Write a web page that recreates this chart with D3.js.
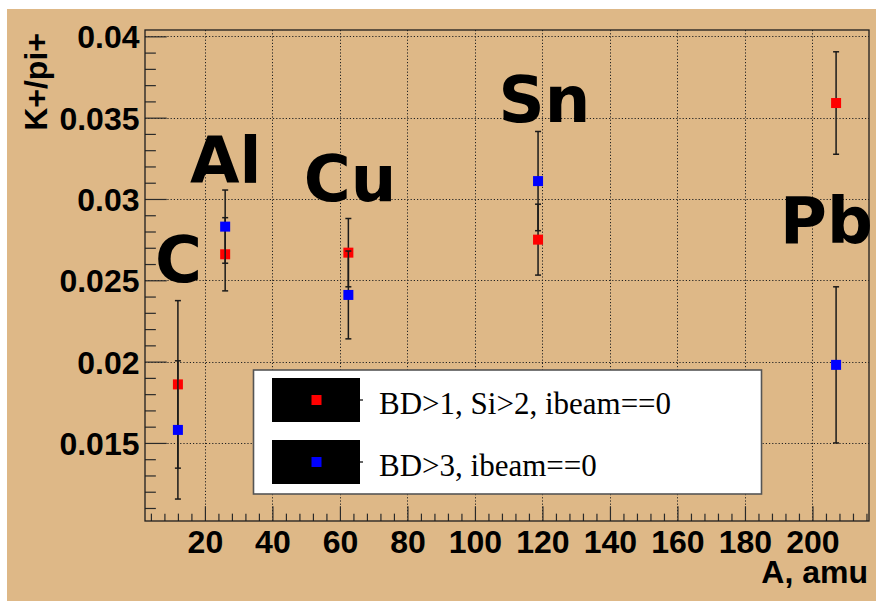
<!DOCTYPE html>
<html>
<head>
<meta charset="utf-8">
<script src="https://cdn.jsdelivr.net/npm/d3@7"></script>
<style>
  html, body { margin: 0; padding: 0; background: #fff; }
  svg { display: block; }
</style>
</head>
<body>
<svg id="chart" width="876" height="601"></svg>
<script>
// Targets and mass numbers
const categories = ["C", "Al", "Cu", "Sn", "Pb"];
const massNumbers = [12, 26, 62.5, 118.7, 207];

// K+/pi+ ratio, selection "BD>1, Si>2, ibeam==0"
const ratioSel1 = [0.0186, 0.0266, 0.0267, 0.0275, 0.0359];
const errorSel1 = [0.00515, 0.00225, 0.0021, 0.00218, 0.00315];

// K+/pi+ ratio, selection "BD>3, ibeam==0"
const ratioSel2 = [0.0158, 0.0283, 0.0241, 0.0311, 0.0198];
const errorSel2 = [0.00425, 0.00225, 0.0027, 0.00305, 0.0048];

const seriesNames = ["BD>1, Si>2, ibeam==0", "BD>3, ibeam==0"];

// Axis ticks
const xMajorTicks = [20, 40, 60, 80, 100, 120, 140, 160, 180, 200];
const xTickLabels = ["20", "40", "60", "80", "100", "120", "140", "160", "180", "200"];
const yMajorTicks = [0.015, 0.02, 0.025, 0.03, 0.035, 0.04];
const yTickLabels = ["0.015", "0.02", "0.025", "0.03", "0.035", "0.04"];

// Target-name annotations, anchored in data coordinates (A, ratio)
const labelA = [5.2, 15.6, 49.3, 107, 190.4];
const labelRatio = [0.0249, 0.0310, 0.0299, 0.03474, 0.0273];

const svg = d3.select("#chart");
const W = 876, H = 601;
const frame = { left: 145, right: 869, top: 30, bottom: 521 };

const x = d3.scaleLinear().domain([2.25, 216.75]).range([frame.left, frame.right]);
const y = d3.scaleLinear().domain([0.0102, 0.04039]).range([frame.bottom, frame.top]);

const sans = "'Liberation Sans', Arial, Helvetica, sans-serif";
const serif = "'Liberation Serif', 'Times New Roman', serif";
const bigSans = "'DejaVu Sans', 'Liberation Sans', sans-serif";

// Page + canvas background
svg.append("rect").attr("width", W).attr("height", H).attr("fill", "#ffffff");
svg.append("rect").attr("x", 7).attr("y", 9).attr("width", W - 7).attr("height", H - 9)
  .attr("fill", "#deb887");

// Dotted grid at the major ticks
const grid = svg.append("g").attr("stroke", "#222").attr("stroke-width", 1)
  .attr("stroke-dasharray", "1.2,2");
grid.selectAll("line.gx").data(xMajorTicks).join("line")
  .attr("x1", d => Math.round(x(d)) + 0.5).attr("x2", d => Math.round(x(d)) + 0.5)
  .attr("y1", frame.top).attr("y2", frame.bottom);
grid.selectAll("line.gy").data(yMajorTicks).join("line")
  .attr("y1", d => Math.round(y(d)) + 0.5).attr("y2", d => Math.round(y(d)) + 0.5)
  .attr("x1", frame.left).attr("x2", frame.right);

// Axes: inward ticks, major + minor
const plotW = frame.right - frame.left, plotH = frame.bottom - frame.top;
const xMinor = d3.range(4, 217, 4).filter(v => v % 20 !== 0);
const yMinor = d3.range(11, 41).map(v => v / 1000).filter(v => Math.round(v * 1000) % 5 !== 0);

function styleAxis(g) {
  g.select(".domain").remove();
  g.selectAll(".tick line").attr("stroke", "#2a2a2a").attr("stroke-width", 1.2);
}

const xAxisG = svg.append("g").attr("transform", `translate(0,${frame.bottom})`)
  .call(d3.axisBottom(x).tickValues(xMajorTicks).tickSizeInner(-0.03 * plotH).tickSizeOuter(0).tickPadding(0)
    .tickFormat((d, i) => xTickLabels[i]));
styleAxis(xAxisG);
xAxisG.selectAll(".tick text").attr("y", 32).attr("dy", null)
  .attr("font-family", sans).attr("font-weight", "bold").attr("font-size", 32).attr("fill", "#000");

const xMinorG = svg.append("g").attr("transform", `translate(0,${frame.bottom})`)
  .call(d3.axisBottom(x).tickValues(xMinor).tickSizeInner(-0.015 * plotH).tickSizeOuter(0).tickFormat(""));
styleAxis(xMinorG);

const yAxisG = svg.append("g").attr("transform", `translate(${frame.left},0)`)
  .call(d3.axisLeft(y).tickValues(yMajorTicks).tickSizeInner(-0.03 * plotW).tickSizeOuter(0).tickPadding(6)
    .tickFormat((d, i) => yTickLabels[i]));
styleAxis(yAxisG);
yAxisG.selectAll(".tick text").attr("x", -5.5).attr("dy", "0.36em")
  .attr("font-family", sans).attr("font-weight", "bold").attr("font-size", 32).attr("fill", "#000");

const yMinorG = svg.append("g").attr("transform", `translate(${frame.left},0)`)
  .call(d3.axisLeft(y).tickValues(yMinor).tickSizeInner(-0.015 * plotW).tickSizeOuter(0).tickFormat(""));
styleAxis(yMinorG);

// Frame
svg.append("rect").attr("x", frame.left).attr("y", frame.top)
  .attr("width", plotW).attr("height", plotH)
  .attr("fill", "none").attr("stroke", "#1e1e1e").attr("stroke-width", 1.3);

// Target names
svg.append("g").selectAll("text").data(categories).join("text")
  .attr("x", (d, i) => x(labelA[i])).attr("y", (d, i) => y(labelRatio[i]))
  .attr("font-family", bigSans).attr("font-weight", "bold").attr("font-size", 64)
  .attr("fill", "#000").text(d => d);

// Error bars + markers
const series = [
  { values: ratioSel1, errors: errorSel1, color: "#ff0000" },
  { values: ratioSel2, errors: errorSel2, color: "#0000ff" }
];
const capHalf = 3, markerSize = 10;

series.forEach(s => {
  const g = svg.append("g");
  const pts = massNumbers.map((a, i) => ({ a, v: s.values[i], e: s.errors[i] }));
  const eb = g.append("g").attr("stroke", "#1a1a1a").attr("stroke-width", 1.5);
  eb.selectAll("line.v").data(pts).join("line")
    .attr("x1", d => x(d.a)).attr("x2", d => x(d.a))
    .attr("y1", d => y(d.v + d.e)).attr("y2", d => y(d.v - d.e));
  eb.selectAll("line.t").data(pts).join("line")
    .attr("x1", d => x(d.a) - capHalf).attr("x2", d => x(d.a) + capHalf)
    .attr("y1", d => y(d.v + d.e)).attr("y2", d => y(d.v + d.e));
  eb.selectAll("line.b").data(pts).join("line")
    .attr("x1", d => x(d.a) - capHalf).attr("x2", d => x(d.a) + capHalf)
    .attr("y1", d => y(d.v - d.e)).attr("y2", d => y(d.v - d.e));
  g.selectAll("rect").data(pts).join("rect")
    .attr("x", d => x(d.a) - markerSize / 2).attr("y", d => y(d.v) - markerSize / 2)
    .attr("width", markerSize).attr("height", markerSize)
    .attr("fill", s.color);
});

// Legend
const legend = svg.append("g");
legend.append("rect").attr("x", 253.5).attr("y", 370).attr("width", 508).attr("height", 124)
  .attr("fill", "#fff").attr("stroke", "#555").attr("stroke-width", 1.6);
const rowY = [400, 462];
seriesNames.forEach((name, i) => {
  const cy = rowY[i];
  legend.append("rect").attr("x", 272).attr("y", cy - 22).attr("width", 88).attr("height", 44)
    .attr("fill", "#000");
  legend.append("line").attr("x1", 360).attr("x2", 363).attr("y1", cy).attr("y2", cy)
    .attr("stroke", "#000").attr("stroke-width", 1.2);
  legend.append("rect").attr("x", 316.5 - markerSize / 2).attr("y", cy - markerSize / 2)
    .attr("width", markerSize).attr("height", markerSize).attr("fill", series[i].color);
  legend.append("text").attr("x", 379).attr("y", cy + 13.5)
    .attr("font-family", serif).attr("font-size", 31).attr("fill", "#000").text(name);
});

// Axis titles
svg.append("text").attr("x", 868).attr("y", 583).attr("text-anchor", "end")
  .attr("font-family", sans).attr("font-weight", "bold").attr("font-size", 32)
  .attr("fill", "#000").text("A, amu");
svg.append("text").attr("transform", "translate(47,33) rotate(-90)").attr("text-anchor", "end")
  .attr("font-family", sans).attr("font-weight", "bold").attr("font-size", 32)
  .attr("fill", "#000").text("K+/pi+");
</script>
</body>
</html>
